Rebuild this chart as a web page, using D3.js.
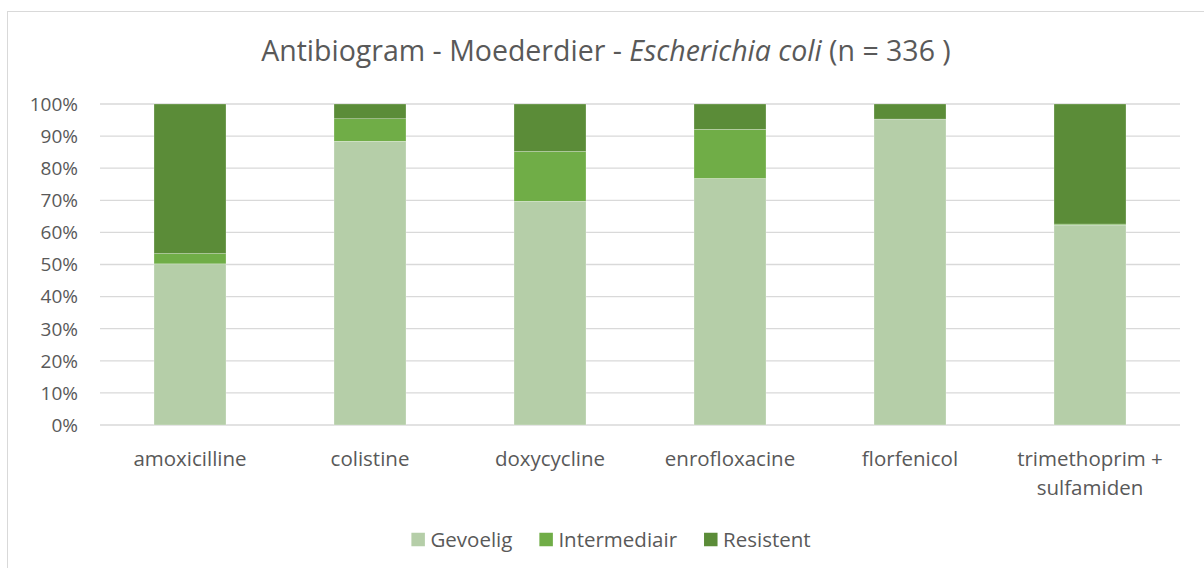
<html>
<head>
<script src="https://d3js.org/d3.v7.min.js"></script>
<style>
body { margin: 0; background: #fff; font-family: 'Open Sans', 'Noto Sans', sans-serif; }
text { fill: #595959; }
</style>
</head>
<body>
<svg></svg>
<script>
// Data
var drugs = ["amoxicilline", "colistine", "doxycycline", "enrofloxacine", "florfenicol", "trimethoprim + sulfamiden"];
var series = ["Gevoelig", "Intermediair", "Resistent"];
var gevoelig = [50.2, 88.4, 69.7, 76.8, 95.3, 62.3];
var intermediair = [3.2, 7.0, 15.5, 15.3, 0.0, 0.3];
var resistent = [46.6, 4.6, 14.8, 7.9, 4.7, 37.4];
var yTicks = [0, 10, 20, 30, 40, 50, 60, 70, 80, 90, 100];
var colors = ["#b5cea8", "#70ad47", "#5b8c38"];

var width = 1204, height = 568;
var plotLeft = 100, plotRight = 1180, plotTop = 104, plotBottom = 425;

var svg = d3.select("svg").attr("width", width).attr("height", height);

// chart frame
svg.append("rect").attr("x", 7.5).attr("y", 11.5).attr("width", 1300).attr("height", 700)
	.attr("fill", "none").attr("stroke", "#d9d9d9").attr("stroke-width", 1);

var rows = drugs.map(function (d, i) {
	return { drug: d, Gevoelig: gevoelig[i], Intermediair: intermediair[i], Resistent: resistent[i] };
});
var stacked = d3.stack().keys(series)(rows);

var xScale = d3.scaleBand().domain(drugs).range([plotLeft, plotRight]).paddingInner(0.6).paddingOuter(0.3);
var yScale = d3.scaleLinear().domain([0, 100]).range([plotBottom, plotTop]);

// gridlines
svg.append("g").selectAll("line").data(yTicks).enter().append("line")
	.attr("x1", plotLeft).attr("x2", plotRight)
	.attr("y1", function (d) { return yScale(d); })
	.attr("y2", function (d) { return yScale(d); })
	.attr("stroke", "#d9d9d9").attr("stroke-width", 1.3);

// y labels
svg.append("g").selectAll("text").data(yTicks).enter().append("text")
	.attr("x", 78).attr("y", function (d) { return yScale(d); })
	.attr("dy", "0.36em").attr("text-anchor", "end")
	.style("font-size", "19px")
	.text(function (d) { return d + "%"; });

// bars
svg.append("g").selectAll("g").data(stacked).enter().append("g")
	.attr("fill", function (d, i) { return colors[i]; })
	.selectAll("rect").data(function (d) { return d; }).enter().append("rect")
	.attr("x", function (d) { return xScale(d.data.drug); })
	.attr("width", xScale.bandwidth())
	.attr("y", function (d) { return yScale(d[1]); })
	.attr("height", function (d) { return yScale(d[0]) - yScale(d[1]); })
	.attr("stroke", "#fff").attr("stroke-width", 0.5).attr("stroke-opacity", 0.5);

// x labels
var xl = svg.append("g").selectAll("text").data(drugs).enter().append("text")
	.attr("x", function (d) { return xScale(d) + xScale.bandwidth() / 2; })
	.attr("y", 466).attr("text-anchor", "middle")
	.style("font-size", "20.5px");
xl.each(function (d) {
	var parts = d === "trimethoprim + sulfamiden" ? ["trimethoprim +", "sulfamiden"] : [d];
	var t = d3.select(this);
	parts.forEach(function (p, i) {
		t.append("tspan").attr("x", t.attr("x")).attr("dy", i === 0 ? 0 : 29).text(p);
	});
});

// title
var title = svg.append("text").attr("x", 606).attr("y", 61).attr("text-anchor", "middle")
	.style("font-size", "28.5px");
title.append("tspan").text("Antibiogram - Moederdier - ");
title.append("tspan").style("font-style", "italic").text("Escherichia coli");
title.append("tspan").text(" (n = 336 )");

// legend, centred below the plot
var legend = svg.append("g");
var items = legend.selectAll("g").data(series).enter().append("g");
items.append("rect").attr("width", 13.5).attr("height", 13.5).attr("y", -6.75)
	.attr("fill", function (d, i) { return colors[i]; });
items.append("text").attr("x", 19).attr("dy", "0.36em")
	.style("font-size", "20.5px").text(function (d) { return d; });
var lx = 0;
items.each(function () {
	d3.select(this).attr("transform", "translate(" + lx + ",0)");
	lx += 19 + d3.select(this).select("text").node().getComputedTextLength() + 27;
});
lx -= 27;
legend.attr("transform", "translate(" + (611 - lx / 2) + ",539.5)");
</script>
</body>
</html>
